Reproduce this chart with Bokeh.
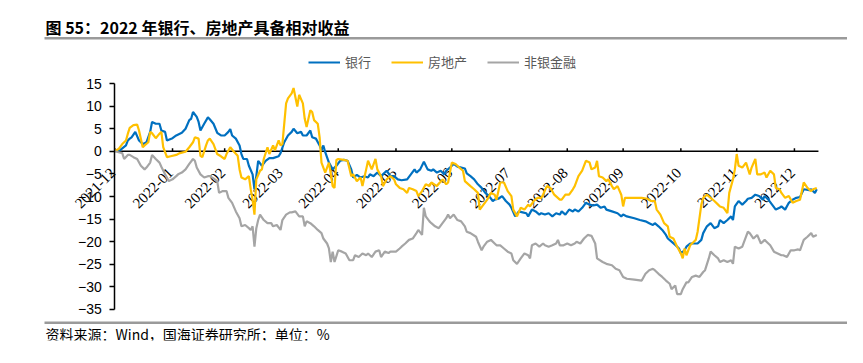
from math import pi
import pandas as pd
from bokeh.plotting import figure
from bokeh.models import (Range1d, FixedTicker, Legend, LegendItem, Label, LabelSet,
                          BoxAnnotation, ColumnDataSource, CustomJSTickFormatter)
from bokeh.embed import file_html
from bokeh.resources import INLINE

TITLE = "图 55：2022 年银行、房地产具备相对收益"
SOURCE = "资料来源：Wind，国海证券研究所；单位：%"
SERIES_NAMES = ["银行", "房地产", "非银金融"]
START = "2021-12-31"
AXIS_END_DAY = 377.9

tick_dates = ["2021-12-31", "2022-01-31", "2022-02-28", "2022-03-31", "2022-04-30", "2022-05-31",
              "2022-06-30", "2022-07-31", "2022-08-31", "2022-09-30", "2022-10-31", "2022-11-30",
              "2022-12-31"]
tick_labels = ["2021-12", "2022-01", "2022-02", "2022-03", "2022-04", "2022-05", "2022-06",
               "2022-07", "2022-08", "2022-09", "2022-10", "2022-11", "2022-12"]
y_ticks = [15, 10, 5, 0, -5, -10, -15, -20, -25, -30, -35]

# days since 2021-12-31
bank_day = [0, 3, 6, 7, 8, 9, 11, 13, 15, 16, 17, 19, 20, 22, 24, 25, 27, 28, 31, 33, 36, 38, 40, 41, 42,
            44, 45, 46, 48, 50, 51, 53, 55, 57, 59, 61, 62, 63, 65, 67, 68, 69, 71, 72, 74, 75, 76, 77,
            79, 81, 83, 85, 88, 89, 91, 93, 95, 96, 98, 100, 101, 103, 105, 106, 108, 110, 111, 112,
            113, 115, 117, 118, 119, 121, 123, 125, 127, 128, 130, 132, 134, 136, 137, 139, 141, 143,
            144, 146, 148, 150, 152, 154, 157, 159, 161, 162, 164, 166, 168, 170, 171, 173, 175, 177,
            178, 180, 182, 184, 186, 188, 189, 191, 193, 195, 197, 199, 201, 203, 204, 206, 208, 210,
            212, 213, 215, 217, 219, 221, 222, 224, 226, 228, 229, 231, 233, 235, 237, 239, 240, 242,
            244, 246, 247, 249, 251, 253, 255, 257, 259, 261, 263, 264, 267, 270, 272, 273, 275, 279,
            282, 285, 287, 289, 290, 292, 294, 296, 297, 299, 301, 303, 304, 306, 307, 309, 311, 313,
            315, 316, 318, 320, 322, 324, 325, 327, 329, 331, 332, 333, 335, 337, 339, 340, 342, 344,
            346, 348, 349, 351, 353, 355, 357, 358, 360, 362, 364, 366, 368, 370, 373, 374, 376, 377]
bank_val = [0.0, 0.3, 1.3, 2.4, 2.8, 3.1, 4.3, 2.4, 1.6, 1.8, 2.0, 4.3, 6.5, 6.1, 6.1, 4.6, 4.3, 2.4, 2.9,
            3.5, 4.1, 5.0, 6.9, 7.2, 8.7, 7.6, 6.5, 4.6, 6.1, 7.5, 7.1, 6.1, 4.1, 3.5, 3.5, 4.3, 4.9,
            3.5, 2.8, 1.3, -0.6, -1.7, -1.7, -3.2, -5.1, -8.4, -5.5, -2.1, -3.2, -2.1, -1.5, -1.5,
            -1.1, -0.4, 2.0, 3.5, 4.3, 5.0, 4.0, 4.3, 3.5, 3.5, 4.6, 3.1, 2.8, 1.3, 0.2, 1.3, -0.2,
            -2.5, -4.0, -3.6, -3.2, -2.1, -1.9, -2.1, -4.0, -5.8, -5.2, -5.8, -5.5, -5.8, -5.1, -5.5,
            -4.7, -5.5, -5.1, -4.3, -5.5, -5.5, -6.2, -6.4, -6.2, -5.1, -4.0, -4.7, -4.0, -2.3, -4.0,
            -4.3, -4.0, -4.7, -4.3, -5.1, -4.3, -3.6, -2.8, -3.4, -3.6, -3.8, -4.9, -5.5, -6.2, -7.3,
            -8.1, -9.2, -9.9, -11.0, -10.7, -10.5, -9.9, -11.0, -11.8, -12.5, -14.4, -13.3, -13.5,
            -13.7, -14.4, -12.9, -13.3, -14.0, -13.7, -14.0, -13.7, -14.4, -13.7, -14.0, -13.3, -14.0,
            -12.9, -13.3, -12.9, -13.3, -12.5, -11.4, -11.8, -12.0, -11.8, -12.5, -12.2, -12.9, -13.3,
            -13.7, -14.4, -14.0, -14.4, -14.8, -15.2, -15.5, -15.9, -16.3, -15.9, -16.6, -17.4, -18.5,
            -19.3, -20.0, -20.7, -21.5, -22.6, -21.9, -21.1, -20.4, -20.4, -20.4, -19.6, -18.1, -16.6,
            -15.9, -17.0, -16.6, -15.2, -15.9, -15.2, -14.4, -15.2, -12.2, -11.0, -11.8, -11.0, -10.5,
            -10.3, -9.6, -9.9, -10.7, -9.9, -10.7, -11.8, -12.9, -12.5, -12.2, -12.9, -11.4, -10.7,
            -10.3, -10.1, -8.4, -8.6, -8.4, -9.2, -8.4]

estate_day = [0, 2, 4, 6, 7, 8, 10, 12, 13, 15, 16, 18, 19, 20, 22, 24, 25, 26, 28, 30, 33, 35, 38, 40, 42,
              43, 45, 46, 47, 49, 50, 51, 53, 55, 57, 59, 60, 62, 64, 66, 67, 68, 70, 72, 73, 74, 75,
              76, 78, 79, 80, 82, 83, 85, 86, 88, 89, 90, 92, 93, 95, 96, 98, 99, 101, 102, 103, 105,
              106, 107, 109, 110, 111, 113, 115, 117, 118, 119, 120, 123, 125, 127, 128, 130, 132, 133,
              135, 136, 138, 140, 141, 143, 144, 146, 148, 150, 151, 153, 155, 157, 158, 160, 162, 163,
              165, 167, 169, 170, 173, 176, 178, 179, 181, 183, 185, 187, 188, 191, 193, 195, 196, 198,
              200, 202, 204, 205, 207, 209, 211, 213, 214, 216, 218, 220, 222, 223, 225, 227, 229, 230,
              232, 234, 236, 239, 240, 242, 244, 246, 247, 249, 251, 253, 255, 256, 258, 259, 260, 262,
              264, 265, 267, 268, 270, 272, 273, 274, 277, 280, 283, 286, 288, 290, 291, 293, 295, 297,
              298, 300, 302, 304, 305, 306, 307, 309, 311, 312, 313, 315, 316, 318, 320, 322, 324, 325,
              327, 329, 330, 332, 333, 334, 335, 337, 339, 341, 342, 344, 345, 347, 349, 350, 352, 354,
              355, 357, 358, 360, 362, 364, 366, 368, 370, 372, 374, 375, 377]
estate_val = [0.0, 0.5, 1.6, 2.4, 3.9, 5.2, 5.8, 5.9, 4.6, 0.9, 1.3, 2.0, 4.3, 4.0, 2.9, 3.9, 4.3, 0.9,
              -1.3, -1.1, -0.8, -0.4, -0.1, 0.9, 2.0, 3.1, 2.8, -1.0, -1.3, 1.3, 2.4, 2.8, 1.6, -0.6,
              -1.1, -1.7, -0.6, 0.9, -0.1, -1.0, -4.0, -5.8, -6.2, -5.5, -8.4, -10.7, -14.0, -6.2,
              -4.3, -4.0, -1.7, 0.9, -0.6, 1.3, 0.2, 2.4, 1.3, 1.6, 10.6, 11.7, 12.8, 14.0, 9.9, 12.5,
              10.6, 7.2, 5.4, 9.1, 8.7, 6.9, 6.1, 3.1, -2.5, -4.7, -2.5, -7.7, -8.1, -1.9, -1.7, -1.9,
              -2.1, -5.5, -5.1, -6.6, -5.8, -7.7, -4.0, -2.1, -4.0, -1.7, -4.0, -5.5, -7.7, -6.2, -5.5,
              -6.2, -7.3, -8.1, -8.4, -9.2, -8.1, -8.4, -8.8, -9.9, -8.8, -7.3, -7.7, -6.9, -7.7, -6.2,
              -7.3, -6.9, -2.5, -2.8, -3.6, -4.3, -6.6, -7.7, -8.4, -9.2, -12.9, -11.8, -10.7, -9.2,
              -9.6, -10.7, -6.9, -6.9, -8.8, -9.9, -12.9, -14.4, -12.5, -12.9, -11.8, -12.2, -11.0,
              -10.3, -10.3, -9.6, -7.7, -8.1, -9.6, -10.7, -10.7, -9.6, -9.6, -8.4, -7.7, -5.5, -4.3,
              -2.1, -2.5, -4.0, -3.6, -2.1, -5.5, -5.8, -6.6, -6.2, -7.7, -8.4, -7.7, -9.6, -12.2,
              -10.3, -10.3, -10.3, -10.3, -10.5, -11.0, -11.0, -12.9, -14.0, -15.9, -16.6, -18.9,
              -19.3, -21.1, -22.6, -23.7, -21.5, -23.0, -20.8, -20.0, -19.6, -17.8, -11.8, -10.3, -9.6,
              -10.3, -11.0, -11.8, -12.2, -12.5, -13.7, -9.2, -6.2, -4.0, -0.6, -3.2, -3.6, -2.5, -5.1,
              -3.6, -1.7, -5.1, -5.1, -4.7, -5.8, -4.3, -5.1, -8.1, -8.4, -9.2, -10.3, -9.9, -11.4,
              -11.0, -10.7, -6.9, -8.1, -8.8, -8.4, -8.1]

nonbank_day = [0, 2, 4, 5, 7, 8, 10, 12, 14, 16, 17, 19, 20, 22, 24, 25, 27, 29, 31, 33, 34, 36, 38, 40,
               42, 43, 44, 46, 48, 50, 51, 53, 55, 56, 58, 60, 61, 63, 65, 67, 68, 70, 72, 73, 74, 75,
               76, 77, 78, 80, 82, 84, 85, 87, 89, 90, 92, 94, 95, 97, 99, 101, 102, 103, 105, 107, 109,
               111, 112, 114, 115, 116, 117, 118, 120, 122, 124, 126, 128, 129, 131, 133, 135, 136, 138,
               140, 142, 143, 145, 147, 148, 151, 153, 154, 156, 158, 160, 162, 163, 165, 166, 167, 169,
               170, 172, 174, 176, 178, 179, 180, 182, 184, 186, 188, 189, 191, 194, 195, 197, 198, 200,
               202, 204, 205, 207, 209, 211, 213, 214, 216, 218, 220, 222, 223, 224, 226, 228, 230, 231,
               233, 235, 237, 238, 239, 241, 243, 245, 247, 248, 250, 252, 254, 256, 258, 259, 262, 264,
               267, 269, 271, 273, 275, 279, 283, 285, 287, 289, 290, 292, 294, 296, 298, 299, 301, 302,
               304, 305, 307, 308, 310, 312, 314, 316, 317, 319, 320, 322, 324, 325, 327, 329, 331, 332,
               333, 335, 337, 339, 340, 341, 343, 345, 347, 349, 350, 352, 354, 356, 358, 359, 361, 363,
               365, 367, 368, 370, 372, 374, 375, 377]
nonbank_val = [0.0, -0.2, -0.4, -1.7, -0.8, -0.8, -1.3, -1.7, -3.2, -4.0, -3.6, -2.5, -0.8, -1.7, -2.5,
               -3.4, -5.1, -6.6, -6.2, -5.5, -5.1, -4.7, -4.0, -2.8, -1.7, -2.1, -3.6, -5.1, -5.8, -5.5,
               -5.5, -6.0, -6.6, -9.2, -8.8, -8.8, -10.3, -11.4, -13.3, -14.8, -16.6, -16.3, -17.0,
               -17.4, -16.6, -21.1, -17.0, -15.2, -14.0, -15.2, -15.9, -15.9, -16.6, -16.3, -17.4, -15.2,
               -14.0, -13.5, -13.5, -13.3, -14.4, -14.4, -16.6, -15.5, -15.9, -16.6, -17.4, -18.1, -19.3,
               -20.4, -21.5, -24.5, -22.2, -24.5, -21.9, -22.2, -22.6, -24.1, -24.1, -23.0, -23.4, -22.6,
               -23.0, -22.6, -23.4, -22.2, -21.9, -23.4, -22.2, -22.5, -22.2, -22.2, -21.5, -21.1, -20.4,
               -19.6, -19.3, -18.1, -17.4, -18.5, -12.5, -14.4, -15.5, -15.9, -16.6, -17.0, -15.9, -14.8,
               -14.0, -14.8, -14.0, -15.2, -15.5, -16.6, -17.8, -18.1, -18.9, -20.0, -21.9, -21.1, -20.0,
               -19.6, -20.4, -20.8, -20.8, -21.5, -22.2, -22.6, -24.1, -24.9, -23.7, -22.6, -23.0, -23.7,
               -20.8, -20.4, -21.1, -20.4, -20.8, -21.1, -20.8, -20.4, -19.6, -20.8, -20.8, -20.4, -20.8,
               -20.4, -20.0, -20.4, -19.3, -18.5, -18.7, -20.4, -23.7, -24.5, -24.9, -25.2, -26.0, -26.3,
               -27.8, -28.2, -28.4, -28.6, -27.1, -26.3, -26.0, -26.3, -27.1, -27.8, -28.6, -29.3, -30.5,
               -29.7, -31.6, -31.6, -30.5, -29.0, -29.0, -27.8, -27.5, -27.8, -26.7, -26.3, -23.7, -22.2,
               -23.0, -23.7, -24.5, -24.1, -24.5, -24.1, -24.9, -21.1, -21.5, -21.1, -18.9, -17.8, -18.1,
               -19.3, -18.5, -20.4, -19.6, -20.0, -20.8, -22.2, -22.6, -23.0, -23.0, -23.4, -21.9, -21.9,
               -21.7, -21.9, -19.6, -18.9, -18.1, -18.9, -18.5]

COLORS = ["#0070C0", "#FFC000", "#A5A5A5"]
W, H = 847, 347
start_ts = pd.Timestamp(START)


def to_dates(days):
    return [(start_ts + pd.Timedelta(days=d)).to_pydatetime() for d in days]


x_start = (start_ts - pd.Timedelta(days=37.76)).to_pydatetime()
x_end = (start_ts + pd.Timedelta(days=393.5)).to_pydatetime()
p = figure(width=W, height=H, x_axis_type="datetime", x_axis_location=None, title=None,
           x_range=Range1d(x_start, x_end), y_range=Range1d(-41.86, 32.48),
           toolbar_location=None, output_backend="svg",
           min_border_left=44, min_border_right=0, min_border_top=4, min_border_bottom=7,
           outline_line_color=None)
p.grid.visible = False

# ---- header / footer (canvas pixel units) ----
p.add_layout(BoxAnnotation(left=35, right=W, top=36.5, bottom=39, left_units="canvas",
                           right_units="canvas", top_units="canvas", bottom_units="canvas",
                           fill_color="#9a9a9a", fill_alpha=1, line_color=None))
p.add_layout(Label(x=45, y=26, x_units="canvas", y_units="canvas", text=TITLE,
                   text_baseline="middle", text_align="left", text_font="Noto Sans CJK SC",
                   text_font_style="bold", text_font_size="16px", text_color="#000000"))
p.add_layout(BoxAnnotation(left=35, right=W, top=321, bottom=323.5, left_units="canvas",
                           right_units="canvas", top_units="canvas", bottom_units="canvas",
                           fill_color="#9a9a9a", fill_alpha=1, line_color=None))
p.add_layout(Label(x=45, y=333, x_units="canvas", y_units="canvas", text=SOURCE,
                   text_baseline="middle", text_align="left", text_font="Noto Sans CJK SC",
                   text_font_size="14px", text_color="#000000"))

# ---- y axis, placed at the first date ----
yax = p.yaxis[0]
yax.fixed_location = start_ts.timestamp() * 1000
yax.ticker = FixedTicker(ticks=y_ticks)
yax.formatter = CustomJSTickFormatter(code="return tick < 0 ? '\u2212' + (-tick) : '' + tick;")
yax.bounds = (-35, 15)
yax.axis_line_color = "black"
yax.axis_line_width = 1.5
yax.major_tick_line_color = "black"
yax.major_tick_line_width = 1.5
yax.major_tick_out = 5
yax.major_tick_in = 0
yax.minor_tick_out = 0
yax.minor_tick_in = 0
yax.major_label_standoff = 8
yax.major_label_text_font = "Liberation Sans"
yax.major_label_text_font_size = "14px"
yax.major_label_text_color = "black"

# ---- x axis drawn along zero ----
tick_dt = to_dates([(pd.Timestamp(d) - start_ts).days for d in tick_dates])
p.line(x=to_dates([0, AXIS_END_DAY]), y=[0, 0], line_color="black", line_width=1.5)
p.segment(x0=tick_dt, y0=[0] * len(tick_dt), x1=tick_dt, y1=[0.7] * len(tick_dt),
          line_color="black", line_width=1.5)
lab_src = ColumnDataSource(dict(x=tick_dt, y=[0] * len(tick_dt), text=tick_labels))
p.add_layout(LabelSet(x="x", y="y", text="text", source=lab_src, angle=pi / 4,
                      text_align="right", text_baseline="middle", x_offset=-2, y_offset=-19,
                      text_font="Liberation Sans", text_font_size="15px", text_color="black",
                      level="underlay"))

renderers = []
for days, vals, color in [(bank_day, bank_val, COLORS[0]), (estate_day, estate_val, COLORS[1]),
                          (nonbank_day, nonbank_val, COLORS[2])]:
    r = p.line(x=to_dates(days), y=vals, line_color=color, line_width=2.2)
    renderers.append(r)

legend = Legend(items=[LegendItem(label=n, renderers=[r]) for n, r in zip(SERIES_NAMES, renderers)],
                orientation="horizontal", location=(264, 269), padding=0, margin=0,
                spacing=20, glyph_width=32, glyph_height=14, label_height=14,
                label_standoff=5, border_line_color=None, background_fill_alpha=0,
                label_text_font="Noto Sans CJK SC", label_text_font_size="13px",
                label_text_color="#595959")
p.add_layout(legend)

open("out.html", "w").write(file_html(p, INLINE))
